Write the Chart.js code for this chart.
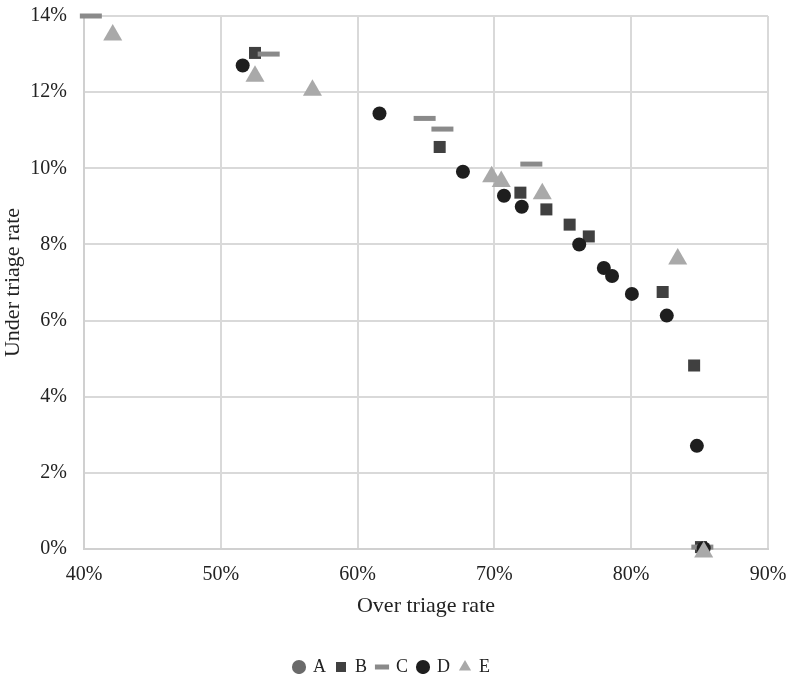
<!DOCTYPE html>
<html><head><meta charset="utf-8">
<script src="https://cdn.jsdelivr.net/npm/chart.js@4"></script>
<style>html,body{margin:0;padding:0;background:#fff}#wrap{width:789px;height:674px}</style>
</head><body><div id="wrap"><canvas id="c"></canvas></div>
<script>
const seriesNames = ['A','B','C','D','E'];
const aX = [85.2], aY = [0];
const bX = [52.5, 66.0, 71.9, 73.8, 75.5, 76.9, 82.3, 84.6, 85.1], bY = [13.03, 10.56, 9.36, 8.92, 8.52, 8.21, 6.75, 4.82, 0.05];
const cX = [40.5, 53.5, 64.9, 66.2, 72.7, 85.2], cY = [14.0, 13.0, 11.31, 11.03, 10.11, 0.05];
const dX = [51.6, 61.6, 67.7, 70.7, 72.0, 76.2, 78.0, 78.6, 80.05, 82.6, 84.8, 85.3], dY = [12.7, 11.44, 9.91, 9.28, 8.99, 8.0, 7.38, 7.17, 6.70, 6.13, 2.71, 0.02];
const eX = [42.1, 52.5, 56.7, 69.8, 70.5, 73.5, 83.4, 85.3], eY = [13.5, 12.42, 12.05, 9.78, 9.65, 9.33, 7.62, -0.08];
const xTicks = [40, 50, 60, 70, 80, 90];
const yTicks = [0, 2, 4, 6, 8, 10, 12, 14];

const pts = (xs, ys) => xs.map((x, i) => ({x, y: ys[i]}));
const F = 'Liberation Serif';
const datasets = [
  {label: seriesNames[0], data: pts(aX, aY), pointStyle: 'circle', pointRadius: 7, backgroundColor: '#6a6a6a', borderColor: '#6a6a6a', borderWidth: 0, order: 4},
  {label: seriesNames[1], data: pts(bX, bY), pointStyle: 'rect', pointRadius: 8.5, backgroundColor: '#404040', borderColor: '#404040', borderWidth: 0, order: 3},
  {label: seriesNames[2], data: pts(cX, cY), pointStyle: 'line', pointRadius: 11, backgroundColor: '#8a8a8a', borderColor: '#8a8a8a', borderWidth: 5, order: 2},
  {label: seriesNames[3], data: pts(dX, dY), pointStyle: 'circle', pointRadius: 7, backgroundColor: '#1e1e1e', borderColor: '#1e1e1e', borderWidth: 0, order: 1},
  {label: seriesNames[4], data: pts(eX, eY), pointStyle: 'triangle', pointRadius: 11, backgroundColor: '#a9a9a9', borderColor: '#a9a9a9', borderWidth: 0, order: 0}
];
datasets.forEach(d => { d.pointHoverRadius = d.pointRadius; d.showLine = false; d.clip = false; });

const legendShift = {
  id: 'legendShift',
  afterLayout(chart) { const l = chart.legend; if (l) { l.left += 16; } }
};

new Chart(document.getElementById('c'), {
  type: 'scatter',
  data: {datasets},
  plugins: [legendShift],
  options: {
    responsive: true, maintainAspectRatio: false, animation: false,
    layout: {padding: {left: 0, right: 21, top: 12, bottom: -12}},
    plugins: {
      tooltip: {enabled: false},
      legend: {
        position: 'bottom',
        labels: {
          usePointStyle: true, boxWidth: 10, boxHeight: 10, padding: 10,
          color: '#222', font: {family: F, size: 18},
          sort: (a, b) => a.datasetIndex - b.datasetIndex
        }
      }
    },
    scales: {
      x: {
        type: 'linear', min: 40, max: 90,
        afterBuildTicks: s => { s.ticks = xTicks.map(v => ({value: v})); },
        ticks: {callback: v => v + '%', color: '#222', font: {family: F, size: 20}, padding: 14},
        grid: {color: '#d9d9d9', lineWidth: 2, drawTicks: false},
        border: {color: '#d0d0d0', width: 2},
        title: {display: true, text: 'Over triage rate', color: '#222', font: {family: F, size: 22}, padding: {top: 8, bottom: 29}},
        afterFit: s => { s.height = 99; s.paddingLeft = 0; s.paddingRight = 0; }
      },
      y: {
        type: 'linear', min: 0, max: 14,
        afterBuildTicks: s => { s.ticks = yTicks.map(v => ({value: v})); },
        ticks: {callback: v => v + '%', color: '#222', font: {family: F, size: 20}, padding: 17},
        grid: {color: '#d9d9d9', lineWidth: 2, drawTicks: false},
        border: {color: '#d0d0d0', width: 2},
        title: {display: true, text: 'Under triage rate', color: '#222', font: {family: F, size: 22}, padding: {top: 0, bottom: 2}},
        afterFit: s => { s.width = 84; s.paddingTop = 0; s.paddingBottom = 0; }
      }
    }
  }
});
</script>
</body></html>
